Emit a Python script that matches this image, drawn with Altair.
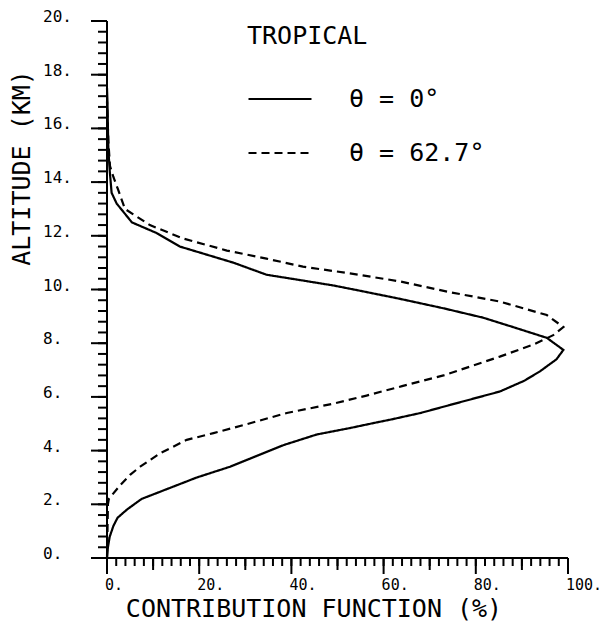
import altair as alt
import pandas as pd

# Solid curve: theta = 0 deg  (altitude km, contribution %)
alt_0 = [0.0, 0.4, 0.8, 1.2, 1.5, 1.8, 2.2, 2.6, 3.0, 3.4, 3.7, 4.2, 4.6, 4.85, 5.05, 5.15,
         5.4, 5.7, 6.2, 6.6, 6.95, 7.4, 7.75, 8.2, 8.6, 8.95, 9.3, 9.65, 9.95, 10.15, 10.35,
         10.55, 11.0, 11.3, 11.6, 12.1, 12.5, 13.2, 13.6, 14.4, 15.2, 16.0, 17.0, 17.5]
cf_0 = [0.0, 0.2, 0.6, 1.4, 2.3, 4.3, 7.5, 13.5, 19.5, 26.7, 31.0, 38.2, 45.5, 53.0, 58.5, 61.4,
        68.0, 74.4, 85.2, 90.5, 93.9, 97.5, 99.0, 95.4, 88.1, 81.6, 73.0, 63.6, 55.0, 49.1, 41.9,
        34.6, 27.4, 21.6, 15.8, 10.8, 5.4, 2.1, 1.0, 0.6, 0.3, 0.2, 0.1, 0.0]

# Dashed curve: theta = 62.7 deg
alt_62 = [0.0, 1.0, 2.0, 2.2, 2.7, 3.1, 3.4, 3.9, 4.4, 4.65, 4.95, 5.4, 5.75, 6.05, 6.4, 6.8,
          7.5, 7.95, 8.3, 8.6, 9.05, 9.55, 9.9, 10.3, 10.6, 10.85, 11.15, 11.45, 11.9, 12.4,
          12.8, 13.0, 13.7, 14.2, 14.6, 15.5, 16.5, 17.0]
cf_62 = [0.0, 0.1, 0.2, 0.4, 2.8, 5.0, 7.2, 11.5, 17.3, 23.1, 29.6, 39.0, 49.1, 56.3, 64.0, 73.0,
         85.2, 92.5, 96.8, 99.0, 95.4, 85.2, 74.4, 63.6, 52.7, 42.5, 34.6, 26.0, 16.5, 9.3,
         5.7, 3.9, 2.45, 1.37, 0.65, 0.3, 0.1, 0.0]

series_names = ["\u03b8 =  0\u00b0", "\u03b8 = 62.7\u00b0"]
legend_title = "TROPICAL"
x_title = "CONTRIBUTION FUNCTION (%)"
y_title = "ALTITUDE (KM)"

# tick positions and labels
x_major = [0, 20, 40, 60, 80, 100]
x_labels = ["0.", "20.", "40.", "60.", "80.", "100."]
x_medium = [10, 30, 50, 70, 90]
x_minor = list(range(0, 101, 2))
y_major = [0, 2, 4, 6, 8, 10, 12, 14, 16, 18, 20]
y_labels = ["0.", "2.", "4.", "6.", "8.", "10.", "12.", "14.", "16.", "18.", "20."]
y_minor = [round(0.4 * i, 1) for i in range(51)]
x_range = [0, 100]
y_range = [0, 20]

rows = []
for a, c in zip(alt_0, cf_0):
    rows.append({"alt": a, "cf": c, "series": series_names[0]})
for a, c in zip(alt_62, cf_62):
    rows.append({"alt": a, "cf": c, "series": series_names[1]})
df = pd.DataFrame(rows)

W, H = 461, 537
FONT = "DejaVu Sans Mono"
x_scale = alt.Scale(domain=x_range, nice=False, zero=False)
y_scale = alt.Scale(domain=y_range, nice=False, zero=False)

main_layer = alt.Chart(df).mark_line(color="black", strokeWidth=2.2).encode(
    x=alt.X("cf:Q", scale=x_scale, axis=None),
    y=alt.Y("alt:Q", scale=y_scale, axis=None),
    order=alt.Order("alt:Q"),
    strokeDash=alt.StrokeDash(
        "series:N",
        scale=alt.Scale(domain=series_names, range=[[1, 0], [8, 5]]),
        legend=alt.Legend(
            title=legend_title, orient="none", legendX=140, legendY=3,
            titleFont=FONT, titleFontSize=25, titleFontWeight="normal", titleColor="black",
            titlePadding=17,
            labelFont=FONT, labelFontSize=25, labelColor="black", labelOffset=36,
            symbolType="stroke", symbolSize=3969, symbolStrokeWidth=2.2,
            symbolStrokeColor="black", rowPadding=8,
        ),
    ),
)

# axis lines
x_domain = alt.Chart(pd.DataFrame({"a": [x_range[0]], "b": [x_range[1]]})).mark_rule(
    color="black", strokeWidth=2
).encode(x=alt.X("a:Q", scale=x_scale, axis=None), x2="b:Q", y=alt.value(H))

y_domain = alt.Chart(pd.DataFrame({"a": [y_range[0]], "b": [y_range[1]]})).mark_rule(
    color="black", strokeWidth=2
).encode(y=alt.Y("a:Q", scale=y_scale, axis=None), y2="b:Q", x=alt.value(0))


def x_tick_layer(values, length):
    return alt.Chart(pd.DataFrame({"v": values})).mark_rule(
        color="black", strokeWidth=2
    ).encode(
        x=alt.X("v:Q", scale=x_scale, axis=None),
        y=alt.value(H),
        y2=alt.value(H + length),
    )


def y_tick_layer(values, length):
    return alt.Chart(pd.DataFrame({"v": values})).mark_rule(
        color="black", strokeWidth=2
    ).encode(
        y=alt.Y("v:Q", scale=y_scale, axis=None),
        x=alt.value(0),
        x2=alt.value(-length),
    )


x_label_layer = alt.Chart(pd.DataFrame({"xl": x_major, "t": x_labels})).mark_text(
    font=FONT, fontSize=15, color="black",
    align="left", baseline="top", dx=-2,
).encode(x=alt.X("xl:Q", scale=x_scale, axis=None), y=alt.value(H + 20), text="t:N")

y_label_layer = alt.Chart(pd.DataFrame({"yl": y_major, "t": y_labels})).mark_text(
    font=FONT, fontSize=16, color="black",
    align="left", baseline="middle", dy=-4,
).encode(y=alt.Y("yl:Q", scale=y_scale, axis=None), x=alt.value(-64), text="t:N")

x_title_layer = alt.Chart(pd.DataFrame({"t": [x_title]})).mark_text(
    font=FONT, fontSize=25, color="black", align="center", baseline="middle",
).encode(x=alt.value(207), y=alt.value(H + 51), text="t:N")

y_title_layer = alt.Chart(pd.DataFrame({"t": [y_title]})).mark_text(
    font=FONT, fontSize=25, color="black", align="center", baseline="middle", angle=270,
).encode(x=alt.value(-85), y=alt.value(147), text="t:N")

chart = alt.layer(
    main_layer,
    x_tick_layer(x_minor, 8),
    x_tick_layer(x_medium, 12),
    x_tick_layer(x_major, 16),
    y_tick_layer(y_minor, 9),
    y_tick_layer(y_major, 16),
    x_domain, y_domain,
    x_label_layer, y_label_layer, x_title_layer, y_title_layer,
).properties(
    width=W, height=H,
    padding={"left": 107, "top": 21, "right": 45, "bottom": 69},
    autosize=alt.AutoSizeParams(type="none"),
).configure_view(stroke=None)

chart.save("out.html", embed_options={"renderer": "svg", "actions": False})
